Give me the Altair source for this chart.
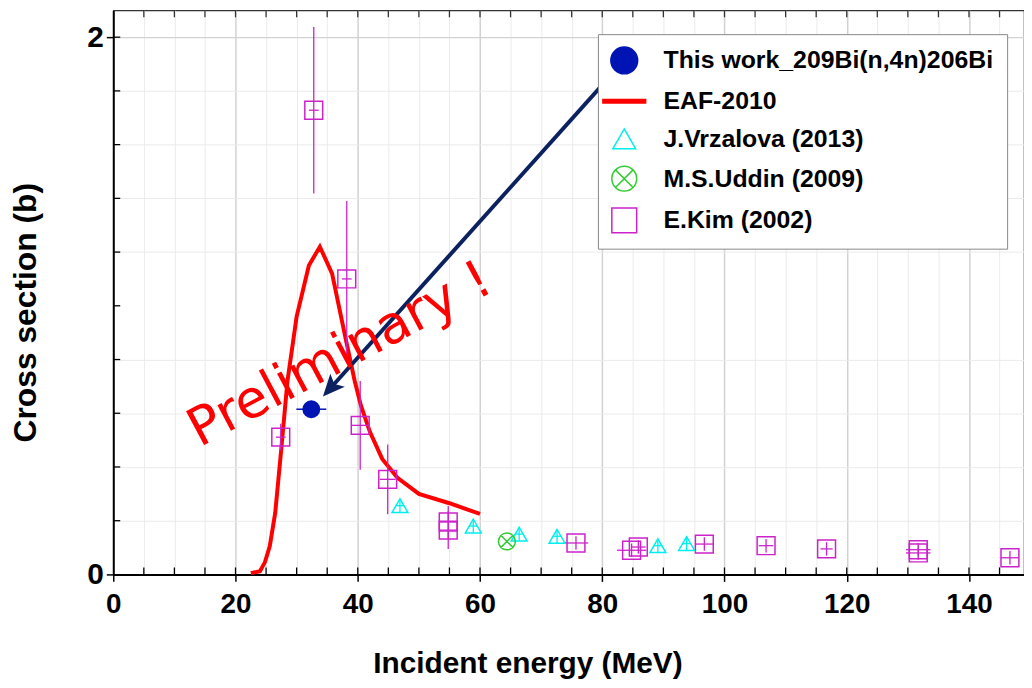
import altair as alt
import pandas as pd

# ---------------- data ----------------
series_names = ["This work_209Bi(n,4n)206Bi", "EAF-2010", "J.Vrzalova (2013)",
                "M.S.Uddin (2009)", "E.Kim (2002)"]

eaf_energy = [22.5, 24.0, 24.8, 25.6, 26.5, 27.5, 28.5, 30.0, 32.0, 33.8, 35.8,
              38.0, 39.5, 40.5, 42.0, 44.0, 46.5, 50.0, 55.0, 60.0]
eaf_xs = [0.005, 0.012, 0.045, 0.105, 0.23, 0.47, 0.72, 0.96, 1.15, 1.22, 1.12,
          0.88, 0.72, 0.63, 0.53, 0.43, 0.36, 0.30, 0.265, 0.225]

kim_energy = [32.8, 38.2, 27.4, 40.4, 44.9, 54.8, 54.8, 75.7, 84.8, 85.9, 96.7,
              106.8, 116.7, 131.7, 131.7, 146.7]
kim_xs = [1.728, 1.10, 0.511, 0.555, 0.354, 0.165, 0.195, 0.117, 0.090, 0.102,
          0.113, 0.107, 0.095, 0.080, 0.092, 0.062]
kim_dxs = [0.31, 0.29, 0.05, 0.165, 0.13, 0.07, 0.06, 0.025, 0.025, 0.025, 0.025,
           0.025, 0.025, 0.025, 0.025, 0.025]
kim_de = [0.8, 0.8, 0.8, 1.5, 1.3, 1.5, 1.5, 2.0, 2.4, 1.2, 1.5, 1.2, 1.0, 2.0,
          2.0, 1.5]

vrz_energy = [46.9, 58.9, 66.4, 72.6, 89.1, 93.8]
vrz_xs = [0.256, 0.180, 0.150, 0.142, 0.107, 0.115]
vrz_dxs = [0.025, 0.025, 0.025, 0.025, 0.025, 0.025]
vrz_de = [0.7, 0.7, 0.7, 0.7, 0.7, 0.7]

uddin_energy = [64.4]
uddin_xs = [0.123]

this_energy = [32.4]
this_xs = [0.615]
this_de = [2.45]

arrow_energy = [83.5, 34.3]   # start (legend symbol) -> tip
arrow_xs = [1.911, 0.662]

note_text = ["Preliminary !"]
note_energy = [38.3]
note_xs = [0.765]

x_major = [0, 20, 40, 60, 80, 100, 120, 140]
x_minor = [5, 10, 15, 25, 30, 35, 45, 50, 55, 65, 70, 75, 85, 90, 95, 105, 110,
           115, 125, 130, 135, 145]
x_ticks = [5, 10, 15, 20, 25, 30, 35, 40, 45, 50, 55, 60, 65, 70, 75, 80, 85, 90,
           95, 100, 105, 110, 115, 120, 125, 130, 135, 140, 145]
y_major = [0, 1, 2]
y_minor = [0.2, 0.4, 0.6, 0.8, 1.2, 1.4, 1.6, 1.8]
y_ticks = [0.2, 0.4, 0.6, 0.8, 1.0, 1.2, 1.4, 1.6, 1.8, 2.0]

# ---------------- styles ----------------
RED = "#ff0000"
BLUE = "#0014b4"
NAVY = "#0b2160"
MAG = "#cc22cc"
CYAN = "#00eeee"
GREEN = "#33cc33"
SANS = "Liberation Sans"

CIRCLE_X = ("M1,0A1,1,0,1,1,-1,0A1,1,0,1,1,1,0Z"
            "M-0.707,-0.707L0.707,0.707M-0.707,0.707L0.707,-0.707")
LEG_SHAPES = [
    "M1.08,0A1.08,1.08,0,1,1,-1.08,0A1.08,1.08,0,1,1,1.08,0Z",
    "M-1.72,-0.14L1.72,-0.14L1.72,0.14L-1.72,0.14Z",
    "M0,-0.8L0.92,0.8L-0.92,0.8Z",
    CIRCLE_X,
    "M-1,-1L1,-1L1,1L-1,1Z",
]
LEG_FILL = [BLUE, RED, "transparent", "transparent", "transparent"]
LEG_STROKE = [BLUE, RED, CYAN, GREEN, MAG]
ARROW_HEAD = "M0,0L0.8,1.8L0,1.4L-0.8,1.8Z"

xscale = alt.Scale(domain=[0, 149], nice=False, zero=False)
yscale = alt.Scale(domain=[0, 2.1], nice=False, zero=False)

# ---------------- tables ----------------
eaf = pd.DataFrame({"E": eaf_energy, "XS": eaf_xs})
kim = pd.DataFrame({"E": kim_energy, "XS": kim_xs})
kim["lo"] = kim["XS"] - pd.Series(kim_dxs)
kim["hi"] = kim["XS"] + pd.Series(kim_dxs)
kim["elo"] = kim["E"] - pd.Series(kim_de)
kim["ehi"] = kim["E"] + pd.Series(kim_de)
vrz = pd.DataFrame({"E": vrz_energy, "XS": vrz_xs})
vrz["lo"] = vrz["XS"] - pd.Series(vrz_dxs)
vrz["hi"] = vrz["XS"] + pd.Series(vrz_dxs)
vrz["elo"] = vrz["E"] - pd.Series(vrz_de)
vrz["ehi"] = vrz["E"] + pd.Series(vrz_de)
udd = pd.DataFrame({"E": uddin_energy, "XS": uddin_xs})
thisw = pd.DataFrame({"E": this_energy, "XS": this_xs})
thisw["elo"] = thisw["E"] - pd.Series(this_de)
thisw["ehi"] = thisw["E"] + pd.Series(this_de)
frac = 0.03
arrow = pd.DataFrame({
    "x1": [arrow_energy[0]], "y1": [arrow_xs[0]],
    "x2": [arrow_energy[1] + frac * (arrow_energy[0] - arrow_energy[1])],
    "y2": [arrow_xs[1] + frac * (arrow_xs[0] - arrow_xs[1])],
})
head = pd.DataFrame({"E": [arrow_energy[1]], "XS": [arrow_xs[1]]})
note = pd.DataFrame({"t": note_text, "E": note_energy, "XS": note_xs})
legend_df = pd.DataFrame({"series": series_names})
xt = pd.DataFrame({"v": x_ticks})
yt = pd.DataFrame({"v": y_ticks})

# ---------------- axes ----------------
minor_x_axis = alt.Axis(values=x_minor, grid=True, gridColor="#ebebeb", gridWidth=1,
                        labels=False, ticks=False, domain=False, title=None,
                        orient="bottom")
minor_y_axis = alt.Axis(values=y_minor, grid=True, gridColor="#ebebeb", gridWidth=1,
                        labels=False, ticks=False, domain=False, title=None,
                        orient="left")
major_x_axis = alt.Axis(values=x_major, grid=True, gridColor="#d2d2d2", gridWidth=1.5,
                        labelFont=SANS, labelFontSize=28, labelFontWeight="bold",
                        labelColor="black", labelPadding=9, labelFlush=False,
                        labelOverlap=False, format="d",
                        ticks=True, tickSize=7, tickColor="black", tickWidth=1.5,
                        domain=True, domainColor="black", domainWidth=2,
                        title="Incident energy (MeV)", titleFont=SANS, titleFontSize=30,
                        titleFontWeight="bold", titleColor="black", titleX=417,
                        titleY=99, titleAlign="center", titleBaseline="alphabetic",
                        orient="bottom")
major_y_axis = alt.Axis(values=y_major, grid=True, gridColor="#d2d2d2", gridWidth=1.5,
                        labelFont=SANS, labelFontSize=30, labelFontWeight="bold",
                        labelColor="black", labelPadding=3, labelFlush=False,
                        labelOverlap=False, format="d",
                        ticks=True, tickSize=7, tickColor="black", tickWidth=1.5,
                        domain=True, domainColor="black", domainWidth=2,
                        title="Cross section (b)", titleFont=SANS, titleFontSize=32,
                        titleFontWeight="bold", titleColor="black", titleX=-78,
                        titleY=304, titleAngle=270, titleAlign="center",
                        titleBaseline="alphabetic", orient="left")


def X(field, axis=None):
    return alt.X(field, type="quantitative", scale=xscale, axis=axis)


def Y(field, axis=None):
    return alt.Y(field, type="quantitative", scale=yscale, axis=axis)


# ---------------- layers ----------------
eaf_line = alt.Chart(eaf).mark_line(color=RED, strokeWidth=4).encode(
    x=X("E", minor_x_axis), y=Y("XS", minor_y_axis))

kim_v = alt.Chart(kim).mark_rule(color=MAG, strokeWidth=1.3).encode(
    x=X("E"), y=Y("lo"), y2="hi")
kim_h = alt.Chart(kim).mark_rule(color=MAG, strokeWidth=1.3).encode(
    x=X("elo"), x2="ehi", y=Y("XS"))
kim_pts = alt.Chart(kim).mark_point(shape="square", size=324, filled=False, color=MAG,
                                    strokeWidth=1.5, opacity=1).encode(
    x=X("E", major_x_axis), y=Y("XS", major_y_axis))

vrz_v = alt.Chart(vrz).mark_rule(color=CYAN, strokeWidth=1.3).encode(
    x=X("E"), y=Y("lo"), y2="hi")
vrz_h = alt.Chart(vrz).mark_rule(color=CYAN, strokeWidth=1.3).encode(
    x=X("elo"), x2="ehi", y=Y("XS"))
vrz_pts = alt.Chart(vrz).mark_point(shape="triangle-up", size=256, filled=False,
                                    color=CYAN, strokeWidth=1.5, opacity=1).encode(
    x=X("E"), y=Y("XS"))

udd_pts = alt.Chart(udd).mark_point(shape=CIRCLE_X, size=289, filled=False, color=GREEN,
                                    strokeWidth=1.5, opacity=1).encode(
    x=X("E"), y=Y("XS"))

this_h = alt.Chart(thisw).mark_rule(color=BLUE, strokeWidth=1.5).encode(
    x=X("elo"), x2="ehi", y=Y("XS"))
this_pt = alt.Chart(thisw).mark_point(shape="circle", size=324, filled=True, color=BLUE,
                                      opacity=1).encode(x=X("E"), y=Y("XS"))

arrow_line = alt.Chart(arrow).mark_rule(color=NAVY, strokeWidth=4).encode(
    x=X("x1"), y=Y("y1"), x2="x2", y2="y2")
arrow_head = alt.Chart(head).mark_point(shape=ARROW_HEAD, size=600, filled=True,
                                        color=NAVY, opacity=1, angle=222).encode(
    x=X("E"), y=Y("XS"))

note_txt = alt.Chart(note).mark_text(font="DejaVu Sans", fontSize=53, color=RED,
                                     angle=332, align="center",
                                     baseline="alphabetic").encode(
    x=X("E"), y=Y("XS"), text="t:N")

tick_bottom = alt.Chart(xt).mark_tick(orient="vertical", size=7, thickness=1.3,
                                      color="black", yOffset=-3.5, opacity=1).encode(
    x=X("v"), y=alt.YDatum(0, scale=yscale, axis=None))
tick_top = alt.Chart(xt).mark_tick(orient="vertical", size=7, thickness=1.3,
                                   color="#333333", yOffset=3.5, opacity=1).encode(
    x=X("v"), y=alt.YDatum(2.1, scale=yscale, axis=None))
tick_left = alt.Chart(yt).mark_tick(orient="horizontal", size=7, thickness=1.3,
                                    color="black", xOffset=3.5, opacity=1).encode(
    y=Y("v"), x=alt.XDatum(0, scale=xscale, axis=None))

leg = alt.Legend(title=None, orient="none", legendX=488, legendY=24, padding=13,
                 rowPadding=11, symbolSize=625, symbolStrokeWidth=1.5,
                 symbolOpacity=1, labelFont=SANS, labelFontSize=25,
                 labelFontWeight="bold", labelColor="black", labelOffset=26,
                 labelLimit=600, labelBaseline="middle", fillColor="white",
                 strokeColor="#888888")
legend_layer = alt.Chart(legend_df).mark_point(filled=True, opacity=0, size=625).encode(
    color=alt.Color("series:N", scale=alt.Scale(domain=series_names, range=LEG_FILL),
                    legend=leg),
    stroke=alt.Stroke("series:N", scale=alt.Scale(domain=series_names, range=LEG_STROKE),
                      legend=leg),
    shape=alt.Shape("series:N", scale=alt.Scale(domain=series_names, range=LEG_SHAPES),
                    legend=leg),
)

chart = alt.layer(
    eaf_line, kim_v, kim_h, kim_pts, vrz_v, vrz_h, vrz_pts, udd_pts,
    this_h, this_pt, arrow_line, arrow_head, note_txt,
    tick_bottom, tick_top, tick_left, legend_layer,
).resolve_axis(
    x="independent", y="independent"
).properties(
    width=917, height=568,
    autosize=alt.AutoSizeParams(type="none"),
    padding={"left": 106, "top": 0, "right": 0, "bottom": 108},
).configure_view(stroke="#333333", strokeWidth=1.2)

chart.save("out.html", embed_options={"renderer": "svg", "actions": False})
